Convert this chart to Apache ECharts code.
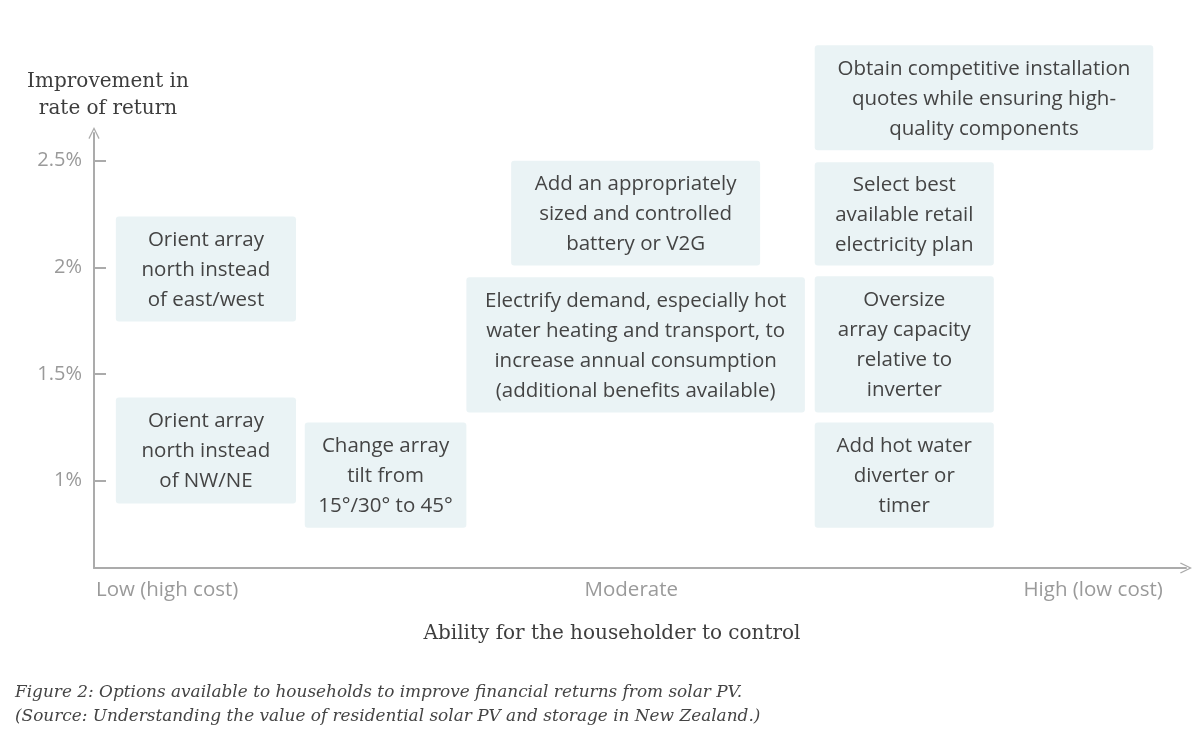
<!DOCTYPE html>
<html>
<head>
<meta charset="utf-8">
<script src="https://cdn.jsdelivr.net/npm/echarts@6/dist/echarts.min.js"></script>
<style>html,body{margin:0;padding:0;background:#fff}#c{width:1200px;height:756px}</style>
</head>
<body>
<div id="c"></div>
<script>
// Option boxes: horizontal span (ability to control, 0-100) and vertical span (improvement in rate of return, %)
const optionLabels = [
  'Orient array\nnorth instead\nof east/west',
  'Orient array\nnorth instead\nof NW/NE',
  'Change array\ntilt from\n15°/30° to 45°',
  'Add an appropriately\nsized and controlled\nbattery or V2G',
  'Electrify demand, especially hot\nwater heating and transport, to\nincrease annual consumption\n(additional benefits available)',
  'Obtain competitive installation\nquotes while ensuring high-\nquality components',
  'Select best\navailable retail\nelectricity plan',
  'Oversize\narray capacity\nrelative to\ninverter',
  'Add hot water\ndiverter or\ntimer'
];
const xStart = [2.0, 2.0, 19.3, 38.2, 34.1, 66.0, 66.0, 66.0, 66.0];
const xEnd   = [18.5, 18.5, 34.1, 61.0, 65.1, 97.0, 82.4, 82.4, 82.4];
const yTop    = [2.239, 1.390, 1.272, 2.500, 1.953, 3.042, 2.493, 1.958, 1.272];
const yBottom = [1.746, 0.892, 0.779, 2.009, 1.319, 2.549, 2.009, 1.319, 0.779];

const yTickValues = [1, 1.5, 2, 2.5];
const xTickValues = [6.7, 49.2, 91.5];
const xTickLabels = ['Low (high cost)', 'Moderate', 'High (low cost)'];

const boxData = optionLabels.map((t, i) => [xStart[i], xEnd[i], yBottom[i], yTop[i], t]);

const chart = echarts.init(document.getElementById('c'));
const chevron = 'path://M0,10 L5,0 L10,10 L9.0,10.7 L5,2.4 L1.0,10.7 Z';
chart.setOption({
  backgroundColor: '#ffffff',
  animation: false,
  title: {
    text: 'Figure 2: Options available to households to improve financial returns from solar PV.\n(Source: Understanding the value of residential solar PV and storage in New Zealand.)',
    left: 10,
    top: 676,
    textStyle: {
      fontFamily: 'DejaVu Serif', fontStyle: 'italic', fontWeight: 'normal',
      fontSize: 16.9, lineHeight: 24, color: '#444444'
    }
  },
  grid: { left: 94, right: 14, top: 133, bottom: 188, containLabel: false, outerBoundsMode: 'none' },
  xAxis: {
    type: 'value', min: 0, max: 100,
    name: 'Ability for the householder to control',
    nameLocation: 'middle', nameGap: 56,
    nameTextStyle: { fontFamily: 'DejaVu Serif', fontSize: 20, color: '#3d3d3d', padding: [0, 56, 0, 0] },
    axisLine: { show: true, symbol: ['none', chevron], symbolSize: [20, 12], lineStyle: { color: '#ababab', width: 2 } },
    axisTick: { show: false },
    splitLine: { show: false },
    axisLabel: {
      customValues: xTickValues,
      formatter: v => { const i = xTickValues.indexOf(v); return i >= 0 ? xTickLabels[i] : ''; },
      fontFamily: 'Open Sans', fontSize: 20.5, color: '#9a9a9a', margin: 12
    }
  },
  yAxis: {
    type: 'value', min: 0.59, max: 2.63,
    name: 'Improvement in\nrate of return',
    nameLocation: 'end', nameGap: 11,
    nameTextStyle: { fontFamily: 'DejaVu Serif', fontSize: 20, lineHeight: 27, color: '#3d3d3d', align: 'center', padding: [0, 0, 0, 28] },
    axisLine: { show: true, symbol: ['none', chevron], symbolSize: [20, 12], lineStyle: { color: '#ababab', width: 2 } },
    axisTick: { show: true, inside: true, length: 12, customValues: yTickValues, lineStyle: { color: '#ababab', width: 2 } },
    splitLine: { show: false },
    axisLabel: {
      customValues: yTickValues,
      formatter: v => v + '%',
      fontFamily: 'Open Sans', fontSize: 20, color: '#9a9a9a', margin: 12
    }
  },
  series: [{
    type: 'custom',
    clip: false,
    data: boxData,
    encode: { x: [0, 1], y: [2, 3] },
    renderItem: (params, api) => {
      const p0 = api.coord([api.value(0), api.value(3)]);
      const p1 = api.coord([api.value(1), api.value(2)]);
      const w = p1[0] - p0[0], h = p1[1] - p0[1];
      return {
        type: 'group',
        children: [
          { type: 'rect', shape: { x: p0[0], y: p0[1], width: w, height: h, r: 3 },
            style: { fill: '#eaf3f5' } },
          { type: 'text', x: p0[0] + w / 2, y: p0[1] + h / 2 + 1,
            style: { text: optionLabels[params.dataIndex], align: 'center', verticalAlign: 'middle',
              fontFamily: 'Open Sans', fontSize: 20.5, lineHeight: 30, fill: '#444444' } }
        ]
      };
    }
  }]
});
</script>
</body>
</html>
